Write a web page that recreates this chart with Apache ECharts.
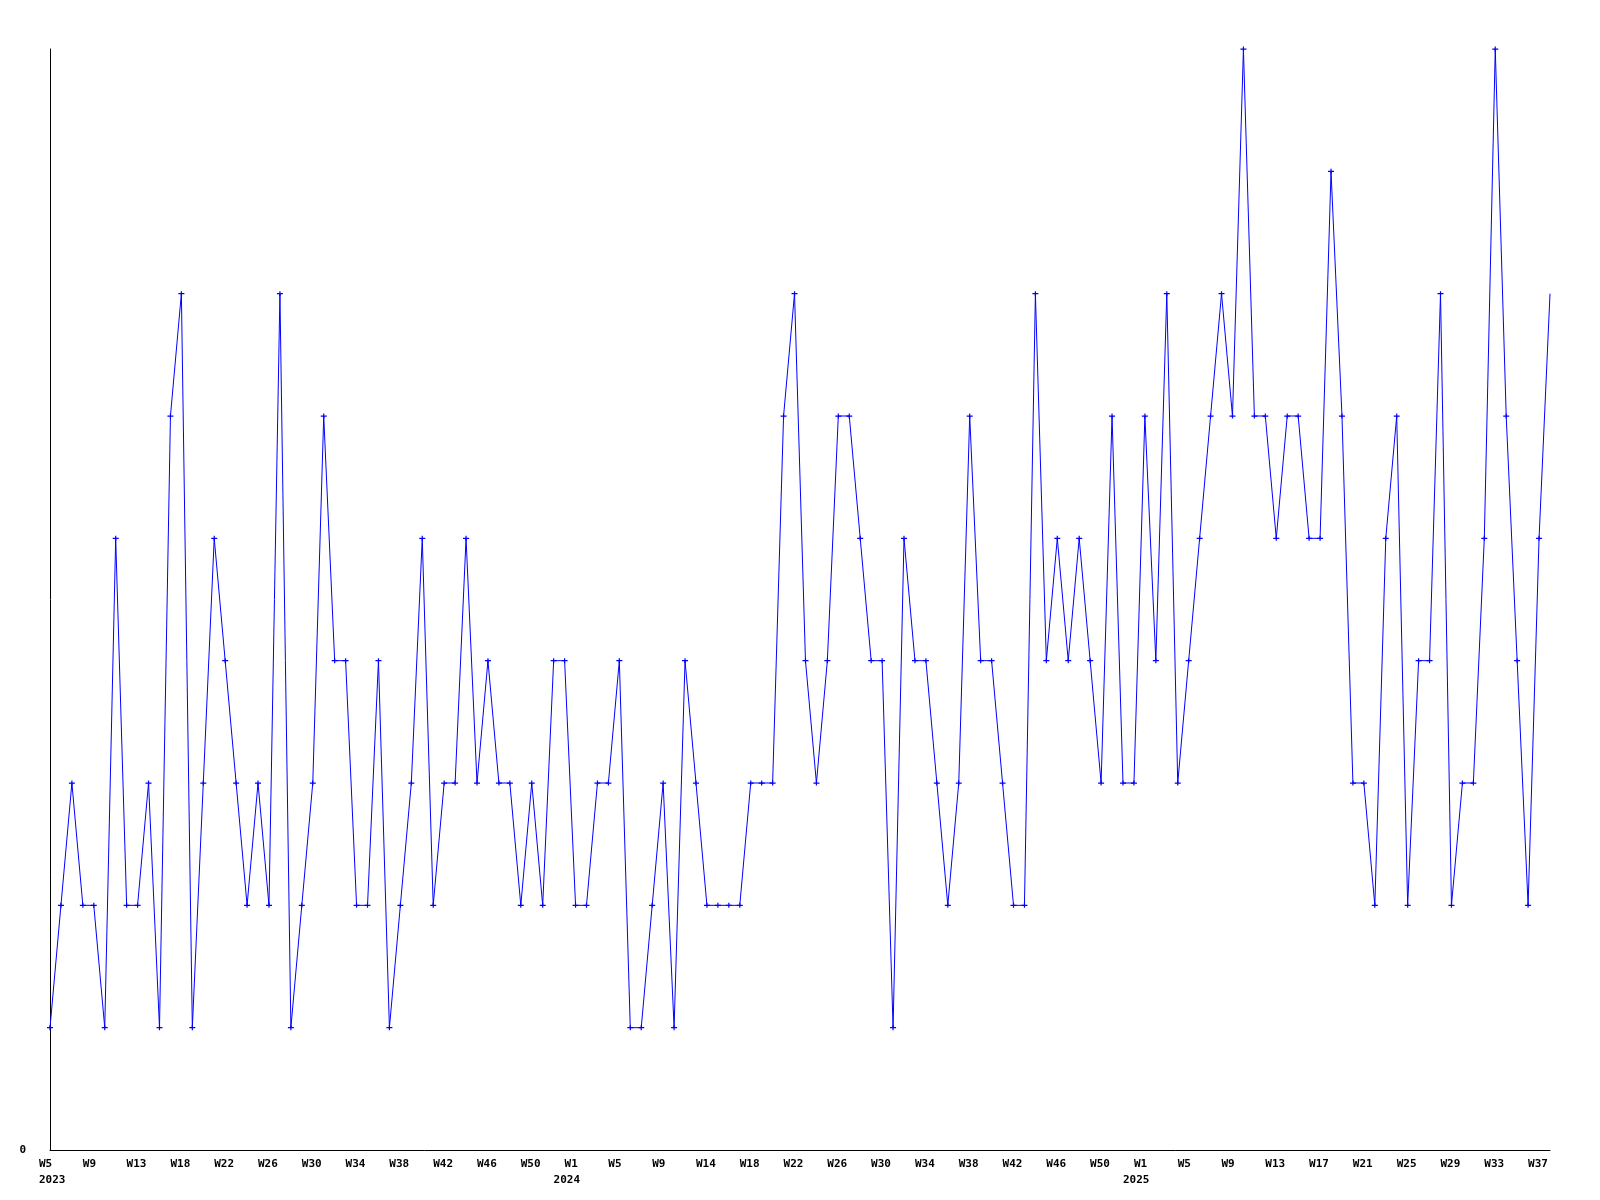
<!DOCTYPE html>
<html>
<head>
<meta charset="utf-8">
<script src="https://cdn.jsdelivr.net/npm/echarts@6/dist/echarts.min.js"></script>
<style>
html,body{margin:0;padding:0;background:#fff;}
#chart{width:1600px;height:1200px;}
</style>
</head>
<body>
<div id="chart"></div>
<script>
// Weekly values, 2023 W5 .. 2025 (138 points)
const values = [
  1,2,3,2,2,1,5,2,2,3,
  1,6,7,1,3,5,4,3,2,3,
  2,7,1,2,3,6,4,4,2,2,
  4,1,2,3,5,2,3,3,5,3,
  4,3,3,2,3,2,4,4,2,2,
  3,3,4,1,1,2,3,1,4,3,
  2,2,2,2,3,3,3,6,7,4,
  3,4,6,6,5,4,4,1,5,4,
  4,3,2,3,6,4,4,3,2,2,
  7,4,5,4,5,4,3,6,3,3,
  6,4,7,3,4,5,6,7,6,9,
  6,6,5,6,6,5,5,8,6,3,
  3,2,5,6,2,4,4,7,2,3,
  3,5,9,6,4,2,5,7
];
// Tick labels, one every 4 points
const tickLabels = [
  'W5','W9','W13','W18','W22','W26','W30','W34','W38','W42','W46','W50',
  'W1','W5','W9','W14','W18','W22','W26','W30','W34','W38','W42','W46','W50',
  'W1','W5','W9','W13','W17','W21','W25','W29','W33','W37'
];
// Year labels under given tick positions (tick number -> year)
const yearTicks = [0, 12, 25];
const yearLabels = ['2023', '2024', '2025'];
const tickEvery = 4;

const categories = values.map((v, i) => String(i));
const plus = 'path://M0,2H5V3H0Z M2,0.5H3V4.5H2Z';
const font = '"DejaVu Sans Mono", "Liberation Mono", monospace';
const txt = {fontFamily: font, fontWeight: 'bold', fontSize: 11, color: '#000', lineHeight: 16};

const chart = echarts.init(document.getElementById('chart'), null, {renderer: 'canvas'});
chart.setOption({
  animation: false,
  backgroundColor: '#ffffff',
  grid: [
    {left: 50, right: 50, top: 49, bottom: 50},
    {left: 28, right: 72, top: 49, bottom: 50}
  ],
  xAxis: [
    {
      type: 'category', gridIndex: 0, data: categories, boundaryGap: false,
      axisLine: {show: true, lineStyle: {color: '#000', width: 1}},
      axisTick: {show: false}, axisLabel: {show: false}, splitLine: {show: false}
    },
    {
      type: 'category', gridIndex: 1, data: categories, boundaryGap: false,
      axisLine: {show: false}, axisTick: {show: false}, splitLine: {show: false},
      axisLabel: {
        show: true,
        interval: (idx) => idx % tickEvery === 0,
        align: 'left',
        margin: 6,
        lineHeight: 16,
        color: '#000',
        fontFamily: font,
        fontWeight: 'bold',
        fontSize: 11,
        rich: {
          w: Object.assign({padding: [0, 0, 0, 11]}, txt),
          y: Object.assign({padding: [0, 0, 0, 0]}, txt),
          y0: Object.assign({padding: [0, 0, 0, 11]}, txt)
        },
        formatter: (val, idx) => {
          const t = Math.round(Number(val) / tickEvery);
          const lab = '{w|' + (tickLabels[t] || '') + '}';
          const yi = yearTicks.indexOf(t);
          if (yi < 0) return lab;
          return lab + '\n{' + (yi === 0 ? 'y0' : 'y') + '|' + yearLabels[yi] + '}';
        }
      }
    }
  ],
  yAxis: [
    {
      type: 'value', gridIndex: 0, min: 0, max: 9, interval: 9,
      axisLine: {show: true, lineStyle: {color: '#000', width: 1}},
      axisTick: {show: false}, splitLine: {show: false},
      axisLabel: {
        show: true, margin: 24, color: '#000', fontFamily: font,
        fontWeight: 'bold', fontSize: 11,
        formatter: (v) => (v === 0 ? '0' : '')
      }
    },
    {
      type: 'value', gridIndex: 1, min: 0, max: 9, show: false
    }
  ],
  series: [
    {
      type: 'line', xAxisIndex: 0, yAxisIndex: 0, data: values,
      showAllSymbol: true,
      symbol: (v, p) => (p.dataIndex === values.length - 1 ? 'none' : plus),
      symbolSize: [6, 5],
      itemStyle: {color: '#0000ff'},
      lineStyle: {color: '#0000ff', width: 1},
      emphasis: {disabled: true}
    }
  ]
});
</script>
</body>
</html>
